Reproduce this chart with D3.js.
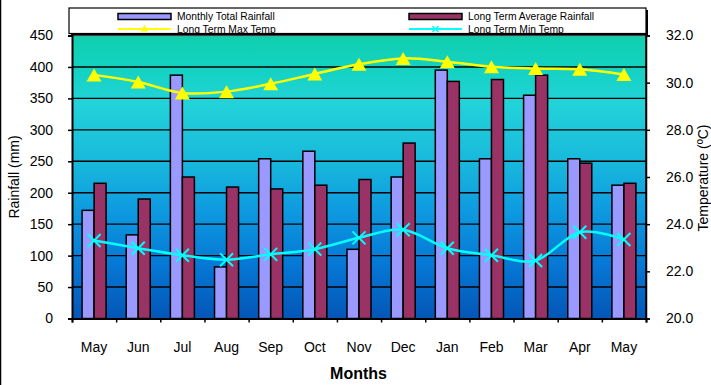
<!DOCTYPE html>
<html>
<head>
<meta charset="utf-8">
<script src="https://cdn.jsdelivr.net/npm/d3@7"></script>
<style>
  html, body { margin: 0; padding: 0; background: #fff; }
  svg { display: block; font-family: Arial, "Liberation Sans", sans-serif; }
</style>
</head>
<body>
<svg id="chart" width="711" height="385"></svg>
<script>
// Monthly rainfall against long-term averages, with long-term temperature range
const months = ["May", "Jun", "Jul", "Aug", "Sep", "Oct", "Nov", "Dec", "Jan", "Feb", "Mar", "Apr", "May"];
const monthlyTotal = [172, 133, 387, 82, 254, 266, 110, 225, 395, 254, 355, 254, 212];
const longTermAvg  = [215, 190, 225, 209, 206, 212, 221, 279, 377, 380, 387, 247, 215];
const maxTemp = [30.33, 30.03, 29.56, 29.62, 29.95, 30.37, 30.78, 31.03, 30.89, 30.67, 30.60, 30.57, 30.35];
const minTemp = [23.31, 22.98, 22.68, 22.49, 22.72, 22.94, 23.42, 23.76, 22.98, 22.68, 22.46, 23.66, 23.35];
const rainTicks = [0, 50, 100, 150, 200, 250, 300, 350, 400, 450];
const tempTicks = [20, 22, 24, 26, 28, 30, 32];
const seriesNames = ["Monthly Total Rainfall", "Long Term Average Rainfall", "Long Term Max  Temp", "Long Term Min  Temp"];

const svg = d3.select("#chart");
const W = 711, H = 385;
const plot = { left: 72, right: 646, top: 35.5, bottom: 318.5 };

const idx = months.map((_, i) => i);
const x = d3.scaleBand().domain(idx).range([plot.left, plot.right]);
const bw = x.bandwidth();
const xSub = d3.scaleBand().domain(["total", "avg"]).range([bw * 0.228, bw * 0.772]);
const xEdge = d3.scaleLinear().domain([0, months.length]).range([plot.left, plot.right]);
const yRain = d3.scaleLinear().domain([0, 450]).range([plot.bottom, plot.top]);
const yTemp = d3.scaleLinear().domain([20, 32]).range([plot.bottom, plot.top]);

// chart-area edge
svg.append("line").attr("x1", 0.5).attr("x2", 0.5).attr("y1", 0).attr("y2", H)
  .attr("stroke", "#000").attr("stroke-width", 1.5);

// plot background gradient
const defs = svg.append("defs");
const grad = defs.append("linearGradient").attr("id", "bg")
  .attr("x1", 0).attr("y1", 0).attr("x2", 0).attr("y2", 1);
[[0, "#10cfae"], [0.12, "#14d2c2"], [0.24, "#22d3d9"], [0.45, "#18b8dc"],
 [0.62, "#0e9ae0"], [0.8, "#0679d6"], [1, "#0456b6"]]
  .forEach(([o, c]) => grad.append("stop").attr("offset", o).attr("stop-color", c));

svg.append("rect")
  .attr("x", plot.left).attr("y", plot.top)
  .attr("width", plot.right - plot.left).attr("height", plot.bottom - plot.top)
  .attr("fill", "url(#bg)");

// horizontal gridlines
svg.append("g").selectAll("line").data(rainTicks.filter(d => d > 0 && d < 450)).join("line")
  .attr("x1", plot.left).attr("x2", plot.right)
  .attr("y1", d => yRain(d)).attr("y2", d => yRain(d))
  .attr("stroke", "#000").attr("stroke-width", 1.4);

// plot top and right edges
svg.append("line").attr("x1", plot.left).attr("x2", plot.right)
  .attr("y1", plot.top).attr("y2", plot.top)
  .attr("stroke", "#808080").attr("stroke-width", 1.5);
svg.append("line").attr("x1", plot.right).attr("x2", plot.right)
  .attr("y1", plot.top).attr("y2", plot.bottom)
  .attr("stroke", "#000").attr("stroke-width", 1.5);

// bars
const barGroups = svg.append("g").selectAll("g").data(idx).join("g")
  .attr("transform", i => `translate(${x(i)},0)`);
barGroups.append("rect")
  .attr("x", xSub("total")).attr("width", xSub.bandwidth())
  .attr("y", i => yRain(monthlyTotal[i]))
  .attr("height", i => yRain(0) - yRain(monthlyTotal[i]))
  .attr("fill", "#9999ff").attr("stroke", "#000").attr("stroke-width", 1.5);
barGroups.append("rect")
  .attr("x", xSub("avg")).attr("width", xSub.bandwidth())
  .attr("y", i => yRain(longTermAvg[i]))
  .attr("height", i => yRain(0) - yRain(longTermAvg[i]))
  .attr("fill", "#993366").attr("stroke", "#000").attr("stroke-width", 1.5);

// temperature lines
const cx = i => x(i) + bw / 2;
const smooth = d3.curveCardinal.tension(0);
const lineMax = d3.line().x((d, i) => cx(i)).y(d => yTemp(d)).curve(smooth);
const lineMin = d3.line().x((d, i) => cx(i)).y(d => yTemp(d)).curve(smooth);

svg.append("path").attr("d", lineMax(maxTemp))
  .attr("fill", "none").attr("stroke", "#ffff00").attr("stroke-width", 2.5);
svg.append("path").attr("d", lineMin(minTemp))
  .attr("fill", "none").attr("stroke", "#00ffff").attr("stroke-width", 2.5);

const triPath = (w, h) => `M0,${-h / 2}L${w / 2},${h / 2}L${-w / 2},${h / 2}Z`;
const xPath = s => `M${-s},${-s}L${s},${s}M${-s},${s}L${s},${-s}`;

svg.append("g").selectAll("path").data(maxTemp).join("path")
  .attr("d", triPath(15, 13))
  .attr("transform", (d, i) => `translate(${cx(i)},${yTemp(d)})`)
  .attr("fill", "#ffff00");
svg.append("g").selectAll("path").data(minTemp).join("path")
  .attr("d", xPath(6.5))
  .attr("transform", (d, i) => `translate(${cx(i)},${yTemp(d)})`)
  .attr("fill", "none").attr("stroke", "#00ffff").attr("stroke-width", 2);

// axes
const styleAxis = g => {
  g.select(".domain").attr("stroke", "#000").attr("stroke-width", 2);
  g.selectAll(".tick line").attr("stroke", "#000").attr("stroke-width", 1.5);
  g.selectAll(".tick text").attr("fill", "#000").attr("font-size", 14)
    .attr("font-family", "Arial, 'Liberation Sans', sans-serif");
};

svg.append("g").attr("transform", `translate(${plot.left},0)`)
  .call(d3.axisLeft(yRain).tickValues(rainTicks).tickSizeOuter(0).tickSize(4).tickPadding(15))
  .call(styleAxis);

svg.append("g").attr("transform", `translate(${plot.right},0)`)
  .call(d3.axisRight(yTemp).tickValues(tempTicks).tickFormat(d3.format(".1f"))
    .tickSizeOuter(0).tickSize(4).tickPadding(16))
  .call(styleAxis)
  .call(g => g.select(".domain").attr("stroke-width", 1.5));

svg.append("g").attr("transform", `translate(0,${plot.bottom})`)
  .call(d3.axisBottom(xEdge).ticks(months.length).tickFormat("").tickSizeOuter(0).tickSize(4))
  .call(styleAxis);

svg.append("g").attr("transform", `translate(0,${plot.bottom})`)
  .call(d3.axisBottom(x).tickFormat(i => months[i]).tickSize(0).tickPadding(24))
  .call(styleAxis)
  .call(g => g.select(".domain").remove());

// axis titles
svg.append("text").attr("x", (plot.left + plot.right) / 2 - 0.5).attr("y", 379)
  .attr("text-anchor", "middle").attr("font-size", 16).attr("font-weight", "bold")
  .text("Months");
svg.append("text").attr("transform", "translate(19,177) rotate(-90)")
  .attr("text-anchor", "middle").attr("font-size", 14).text("Rainfall (mm)");
svg.append("text").attr("transform", "translate(707.5,178) rotate(-90)")
  .attr("text-anchor", "middle").attr("font-size", 14).text("Temperature (ºC)");

// legend
const lg = { x: 69, y: 8, w: 577, h: 25.5 };
svg.append("rect").attr("x", lg.x + 2).attr("y", lg.y + 2).attr("width", lg.w).attr("height", lg.h)
  .attr("fill", "#000");
svg.append("rect").attr("x", lg.x).attr("y", lg.y).attr("width", lg.w).attr("height", lg.h)
  .attr("fill", "#fff").attr("stroke", "#000").attr("stroke-width", 1.2);

const legendItems = [
  { name: seriesNames[0], kind: "bar", color: "#9999ff", col: 0, row: 0 },
  { name: seriesNames[1], kind: "bar", color: "#993366", col: 1, row: 0 },
  { name: seriesNames[2], kind: "tri", color: "#ffff00", col: 0, row: 1 },
  { name: seriesNames[3], kind: "x",   color: "#00ffff", col: 1, row: 1 }
];
const colX = [118, 409], rowY = [16.5, 29];
const li = svg.append("g").selectAll("g").data(legendItems).join("g")
  .attr("transform", d => `translate(${colX[d.col]},${rowY[d.row]})`);
li.filter(d => d.kind === "bar").append("rect")
  .attr("x", 0).attr("y", -3).attr("width", 53).attr("height", 6)
  .attr("fill", d => d.color).attr("stroke", "#000").attr("stroke-width", 1.5);
li.filter(d => d.kind !== "bar").append("line")
  .attr("x1", 0).attr("x2", 53).attr("y1", 0).attr("y2", 0)
  .attr("stroke", d => d.color).attr("stroke-width", 2);
li.filter(d => d.kind === "tri").append("path")
  .attr("d", triPath(7, 7)).attr("transform", "translate(26.5,-1)").attr("fill", d => d.color);
li.filter(d => d.kind === "x").append("path")
  .attr("d", xPath(3)).attr("transform", "translate(26.5,0)")
  .attr("stroke", d => d.color).attr("stroke-width", 1.5);
li.append("text").attr("x", 59).attr("y", 3.5)
  .attr("font-size", 10.3).attr("fill", "#000").text(d => d.name);
</script>
</body>
</html>
